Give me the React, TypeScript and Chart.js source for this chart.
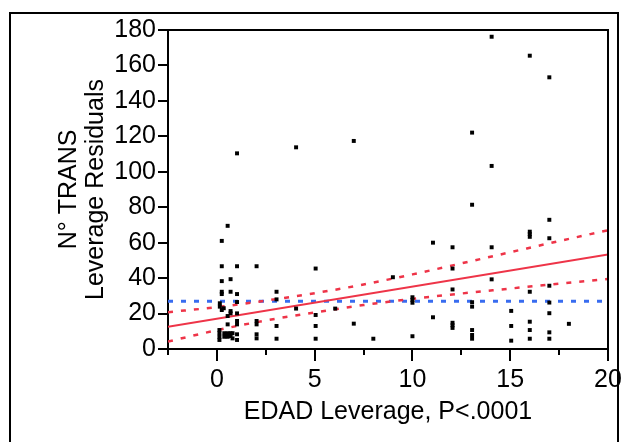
import React, { useEffect, useRef } from 'react';
import { Chart, registerables } from 'chart.js';
Chart.register(...registerables);

// Observed points: EDAD leverage (x) vs N° TRANS leverage residuals (y)
const pointX = [
  0.25, 0.55, 1.03, 0.25, 1.03, 0.7, 0.25, 0.25, 0.25, 0.7, 1.03,
  0.15, 0.15, 0.25, 0.7, 0.7, 1.03, 0.55, 1.03, 0.35,
  1.03, 1.03, 0.55, 0.13, 0.13, 0.13, 0.13, 0.38, 0.38, 0.55, 0.55, 0.7, 0.7,
  0.8, 0.8, 1.03, 1.03,
  2.03, 2.03, 2.03, 2.03, 2.03,
  3.05, 3.05, 3.05, 3.05,
  4.05, 4.05,
  5.05, 5.05, 5.05, 5.05,
  6.05,
  7.0, 7.0,
  8.0,
  9.0,
  10.0, 10.0, 10.0, 10.0,
  11.05, 11.05,
  12.05, 12.05, 12.05, 12.05, 12.05, 12.05,
  13.05, 13.05, 13.05, 13.05, 13.05, 13.05, 13.05,
  14.05, 14.05, 14.05, 14.05,
  15.05, 15.05, 15.05,
  16.0, 16.0, 16.0, 16.0, 16.0, 16.0, 16.0, 16.0,
  17.0, 17.0, 17.0, 17.0, 17.0, 17.0, 17.0, 17.0,
  18.0,
];
const pointY = [
  61.0, 69.5, 110.4, 46.7, 46.7, 39.4, 38.3, 32.3, 31.0, 32.3, 31.0,
  25.8, 23.9, 22.0, 21.4, 20.1, 20.1, 18.6, 26.5, 23.0,
  15.8, 13.9, 13.9, 10.7, 8.9, 6.9, 5.1, 8.9, 6.9, 8.9, 6.9, 8.9, 7.3,
  8.9, 6.0, 8.3, 5.1,
  46.7, 15.8, 13.9, 8.3, 6.0,
  32.3, 28.0, 13.0, 5.8,
  113.8, 22.8,
  45.4, 19.2, 13.0, 5.8,
  22.8,
  117.4, 14.3,
  5.8,
  40.5,
  29.2, 27.7, 26.1, 7.2,
  60.0, 17.9,
  57.4, 45.4, 33.6, 14.8, 13.4, 11.9,
  122.1, 81.4, 26.4, 23.9, 10.7, 7.9, 5.8,
  176.2, 103.3, 57.4, 39.3,
  21.5, 13.0, 4.7,
  165.5, 66.2, 64.8, 63.3, 32.3, 15.4, 10.7, 5.8,
  153.3, 72.9, 62.5, 35.7, 26.2, 20.2, 9.4, 5.8,
  14.2,
];

// Fitted line, confidence curves and mean
const fitX = [-2.5, 20];
const fitY = [12.6, 53.4];
const ciX = [-2.5, 0, 2.5, 5, 7.5, 10, 12.5, 15, 17.5, 20];
const ciUpper = [20.8, 23.6, 27.3, 31.5, 36.4, 42.1, 48.3, 54.6, 60.9, 67.0];
const ciLower = [4.2, 10.6, 16.1, 20.6, 24.8, 28.3, 31.3, 34.1, 36.9, 39.5];
const meanX = [-2.5, 20];
const meanY = [26.9, 26.9];

const xMajorTicks = [0, 5, 10, 15, 20];
const xMinorTicks = [-2.5, 2.5, 7.5, 12.5, 17.5];
const yTicks = [0, 20, 40, 60, 80, 100, 120, 140, 160, 180];

const xTitle = 'EDAD Leverage, P<.0001';
const yTitle = ['N° TRANS', 'Leverage Residuals'];

const FONT = "'Liberation Sans', Arial, sans-serif";
const RED = 'rgb(238, 52, 72)';
const BLUE = 'rgb(56, 108, 240)';

const zip = (xs: number[], ys: number[]) => xs.map((x, i) => ({ x, y: ys[i] }));

const framePlugin = {
  id: 'frame',
  afterDraw(chart: any) {
    const { ctx, chartArea } = chart;
    const { left, top, right, bottom } = chartArea;
    const xs = chart.scales.x;
    ctx.save();
    ctx.strokeStyle = '#000';
    ctx.lineWidth = 2;
    ctx.beginPath();
    ctx.moveTo(left - 1, top);
    ctx.lineTo(right, top);
    ctx.lineTo(right, bottom + 1);
    ctx.stroke();
    ctx.beginPath();
    for (const v of xMinorTicks) {
      const px = Math.round(xs.getPixelForValue(v));
      ctx.moveTo(px, bottom);
      ctx.lineTo(px, bottom + 6);
    }
    ctx.stroke();
    ctx.restore();
  },
};

export default function App() {
  const ref = useRef<HTMLCanvasElement | null>(null);
  useEffect(() => {
    if (!ref.current) return;
    const chart = new Chart(ref.current, {
      type: 'scatter',
      data: {
        datasets: [
          {
            label: 'points',
            data: zip(pointX, pointY),
            pointStyle: 'rect',
            pointRadius: 2.8,
            backgroundColor: '#000',
            borderWidth: 0,
            showLine: false,
          },
          {
            label: 'fit',
            data: zip(fitX, fitY),
            showLine: true,
            borderColor: RED,
            borderWidth: 2,
            pointRadius: 0,
          },
          {
            label: 'upper',
            data: zip(ciX, ciUpper),
            showLine: true,
            borderColor: RED,
            borderWidth: 2.5,
            borderDash: [5, 8],
            pointRadius: 0,
            cubicInterpolationMode: 'monotone',
          },
          {
            label: 'lower',
            data: zip(ciX, ciLower),
            showLine: true,
            borderColor: RED,
            borderWidth: 2.5,
            borderDash: [5, 8],
            pointRadius: 0,
            cubicInterpolationMode: 'monotone',
          },
          {
            label: 'mean',
            data: zip(meanX, meanY),
            showLine: true,
            borderColor: BLUE,
            borderWidth: 3,
            borderDash: [5, 8],
            pointRadius: 0,
          },
        ],
      },
      options: {
        animation: false,
        responsive: false,
        devicePixelRatio: 1,
        layout: { padding: { top: 30, right: 19, left: 0, bottom: 0 } },
        plugins: { legend: { display: false }, tooltip: { enabled: false } },
        scales: {
          x: {
            type: 'linear',
            min: -2.5,
            max: 20,
            afterBuildTicks: (s: any) => {
              s.ticks = xMajorTicks.map((v) => ({ value: v }));
            },
            afterFit: (s: any) => {
              s.height = 93;
            },
            border: { display: true, color: '#000', width: 2 },
            grid: { drawOnChartArea: false, drawTicks: true, tickLength: 12, color: '#000', lineWidth: 2 },
            ticks: { color: '#000', padding: 4, font: { family: FONT, size: 25 }, maxRotation: 0 },
            title: {
              display: true,
              text: xTitle,
              color: '#000',
              font: { family: FONT, size: 25, lineHeight: 1.2 },
              padding: { top: 0, bottom: 15 },
            },
          },
          y: {
            type: 'linear',
            min: 0,
            max: 180,
            afterBuildTicks: (s: any) => {
              s.ticks = yTicks.map((v) => ({ value: v }));
            },
            afterFit: (s: any) => {
              s.width = 168;
            },
            border: { display: true, color: '#000', width: 2 },
            grid: { drawOnChartArea: false, drawTicks: true, tickLength: 10, color: '#000', lineWidth: 2 },
            ticks: { color: '#000', padding: 2, font: { family: FONT, size: 25 } },
            title: {
              display: true,
              text: yTitle,
              color: '#000',
              font: { family: FONT, size: 25, lineHeight: 1.1 },
              padding: { top: 55, bottom: 0 },
            },
          },
        },
      },
      plugins: [framePlugin],
    });
    return () => chart.destroy();
  }, []);

  return (
    <div style={{ position: 'fixed', left: 0, top: 0, width: 627, height: 442, background: '#fff', overflow: 'hidden' }}>
      <div
        style={{
          position: 'absolute',
          left: 9,
          top: 12,
          width: 610,
          height: 460,
          border: '2px solid #000',
          boxSizing: 'border-box',
        }}
      />
      <canvas ref={ref} width={627} height={442} style={{ position: 'absolute', left: 0, top: 0, width: 627, height: 442 }} />
    </div>
  );
}
